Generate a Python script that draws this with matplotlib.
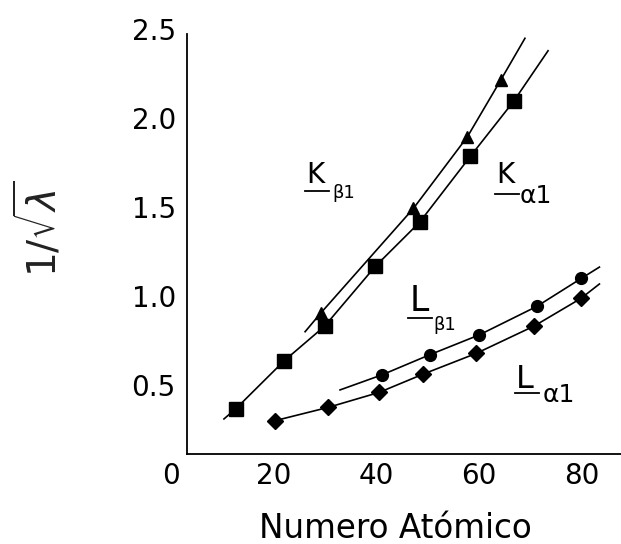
import matplotlib
matplotlib.use("Agg")
import matplotlib.pyplot as plt
from matplotlib.transforms import ScaledTranslation

plt.rcParams['font.family'] = ['DejaVu Sans']
plt.rcParams['mathtext.fontset'] = 'dejavusans'

# data (atomic number vs 1/sqrt(lambda))
ka1_z = [12.7, 22.1, 30.0, 39.9, 48.5, 58.4, 66.8]
ka1_v = [0.364, 0.633, 0.828, 1.165, 1.412, 1.783, 2.091]
ka1_ends = [(10.4, 0.307), (73.5, 2.375)]

kb1_z = [29.2, 47.3, 57.8, 64.3]
kb1_v = [0.90, 1.49, 1.892, 2.211]
kb1_ends = [(26.2, 0.797), (69.0, 2.445)]

lb1_z = [41.2, 50.5, 60.1, 71.3, 80.0]
lb1_v = [0.555, 0.668, 0.779, 0.939, 1.097]
lb1_ends = [(33.0, 0.470), (83.5, 1.160)]

la1_z = [20.3, 30.7, 40.6, 49.2, 59.5, 70.8, 79.9]
la1_v = [0.297, 0.372, 0.456, 0.559, 0.675, 0.829, 0.984]
la1_ends = [(20.3, 0.297), (83.5, 1.065)]

xticks = [0, 20, 40, 60, 80]
yticks = [0.5, 1.0, 1.5, 2.0, 2.5]

fig = plt.figure(figsize=(6.21, 5.44), dpi=100)
ax = fig.add_axes([0.2746, 0.1654, 0.7254, 0.7822])

def curve(z, v, ends, marker, ms):
    cz = [ends[0][0]] + z + [ends[1][0]]
    cv = [ends[0][1]] + v + [ends[1][1]]
    ax.plot(cz, cv, color='black', lw=1.2, zorder=2)
    ax.plot(z, v, ls='none', marker=marker, ms=ms, color='black', zorder=3)

curve(ka1_z, ka1_v, ka1_ends, 's', 9.5)
curve(kb1_z, kb1_v, kb1_ends, '^', 8)
curve(lb1_z, lb1_v, lb1_ends, 'o', 8.5)
curve(la1_z, la1_v, la1_ends, 'D', 8.5)

ax.set_xlim(0, 87.7)
ax.set_ylim(0.11, 2.5)
ax.spines['top'].set_visible(False)
ax.spines['right'].set_visible(False)
ax.spines['left'].set_position(('data', 3.2))
ax.spines['left'].set_bounds(0.11, 2.47)
ax.spines['bottom'].set_bounds(3.2, 87.7)
for s in ['left', 'bottom']:
    ax.spines[s].set_linewidth(1.3)
ax.set_xticks(xticks)
ax.set_yticks(yticks)
ax.set_yticklabels(['%.1f' % t for t in yticks])
ax.tick_params(length=0, labelsize=20)
ax.tick_params(axis='y', pad=8)
ax.tick_params(axis='x', pad=6)
ax.patch.set_alpha(0)

ax.set_xlabel('Numero Atómico', fontsize=23.5, va='baseline')
ax.xaxis.set_label_coords(0.5, -0.198)

fig.text(0.063, 0.579, r'$1/\sqrt{\lambda}$', rotation=90, fontsize=28,
         ha='center', va='center', color='#222222')

def band_label(x, y, letter, sub, size, subsize, sdx, sdy, uly):
    # offsets are in pixels relative to the letter's left/baseline
    def tr(dx, dy):
        return ax.transData + ScaledTranslation(dx / 100, dy / 100, fig.dpi_scale_trans)
    ax.text(x, y, letter, transform=tr(0, 0), fontsize=size, ha='left', va='baseline')
    ax.text(x, y, sub, transform=tr(sdx, sdy), fontsize=subsize, ha='left', va='baseline')
    base = fig.dpi_scale_trans + ScaledTranslation(x, y, ax.transData)
    ax.plot([-0.01, 0.225], [uly / 100, uly / 100], transform=base, color='black', lw=1.3)

band_label(26.4, 1.630, 'K', 'β1', 20, 13, 26, -15, -7.5)
band_label(63.4, 1.633, 'K', 'α1', 20, 18, 23.4, -20.6, -11)
band_label(46.5, 0.913, 'L', 'β1', 25, 13, 24.3, -19, -6.7)
band_label(67.3, 0.480, 'L', 'α1', 23, 18, 26.7, -14.3, -5)

fig.savefig('out.png', dpi=100)
